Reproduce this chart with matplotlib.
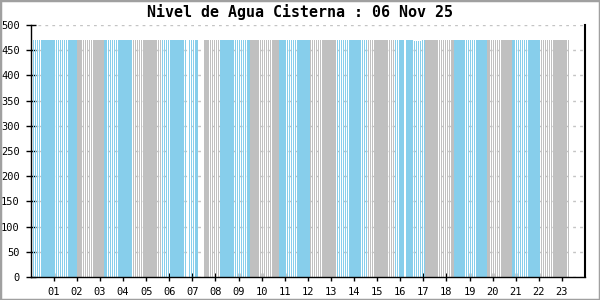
import numpy as np
import matplotlib
matplotlib.use("Agg")
from matplotlib import pyplot as plt
from matplotlib.patches import Rectangle

# each run of samples: colour group ('b' blue, 'g' gray, '-' no data) and length
seg_color = ['b', 'g', 'b', 'g', 'b', '-', 'b', '-', 'g', 'b', 'g', 'b',
             'g', 'b', 'g', 'b', '-', 'b', 'g', 'b', 'g', 'b', 'g']
seg_len = [24, 14, 15, 15, 13, 1, 5, 3, 8, 16, 15, 16,
           14, 16, 14, 5, 1, 10, 15, 17, 13, 15, 15]
level = 470
low_bars = [199, 200, 201, 202]   # sample index of the few slightly lower readings
low_level = 468

hour_labels = ['%02d' % h for h in range(1, 24)]
n_slots = 288
per_tick = 12

colmap = {'b': '#87ceeb', 'g': '#c0c0c0'}

xs, hs, cs = [], [], []
i = 0
for c, n in zip(seg_color, seg_len):
    for k in range(n):
        if c != '-':
            xs.append(i + 0.5)
            hs.append(low_level if i in low_bars else level)
            cs.append(colmap[c])
        i += 1

fig = plt.figure(figsize=(6, 3), dpi=100)
fig.patch.set_facecolor('white')
ax = fig.add_axes([30.7/600, 23/300, (585-30.7)/600, 252/300])

ax.bar(xs, hs, width=0.75, color=cs, linewidth=0, zorder=2)

ax.set_xlim(0, n_slots)
ax.set_ylim(0, 500)
ax.set_yticks(np.arange(0, 501, 50))
ax.set_xticks([per_tick*(k+1) for k in range(len(hour_labels))])
ax.set_xticklabels(hour_labels)
ax.yaxis.grid(True, color='#c4c4c4', linestyle=(0, (2, 3)), linewidth=1, zorder=0)
ax.set_axisbelow(True)

for lab in ax.get_xticklabels() + ax.get_yticklabels():
    lab.set_family('DejaVu Sans Mono')
    lab.set_fontsize(7.5)
ax.tick_params(axis='y', direction='inout', length=7, width=1, pad=4.3)
ax.tick_params(axis='x', direction='inout', length=6, width=1, pad=4)

ax.spines['top'].set_visible(False)
ax.spines['left'].set_linewidth(1)
ax.spines['right'].set_linewidth(1.5)
ax.spines['bottom'].set_linewidth(1)
ax.spines['bottom'].set_linestyle((0, (1, 1)))

fig.text(0.5, 1 - 12/300, 'Nivel de Agua Cisterna : 06 Nov 25', ha='center', va='center',
         fontsize=10.8, fontweight='bold', family='DejaVu Sans Mono')

fig.patches.append(Rectangle((0, 0), 1, 1, transform=fig.transFigure, fill=False,
                             edgecolor='#a0a0a0', linewidth=2.5))

fig.savefig('out.png', dpi=100)
